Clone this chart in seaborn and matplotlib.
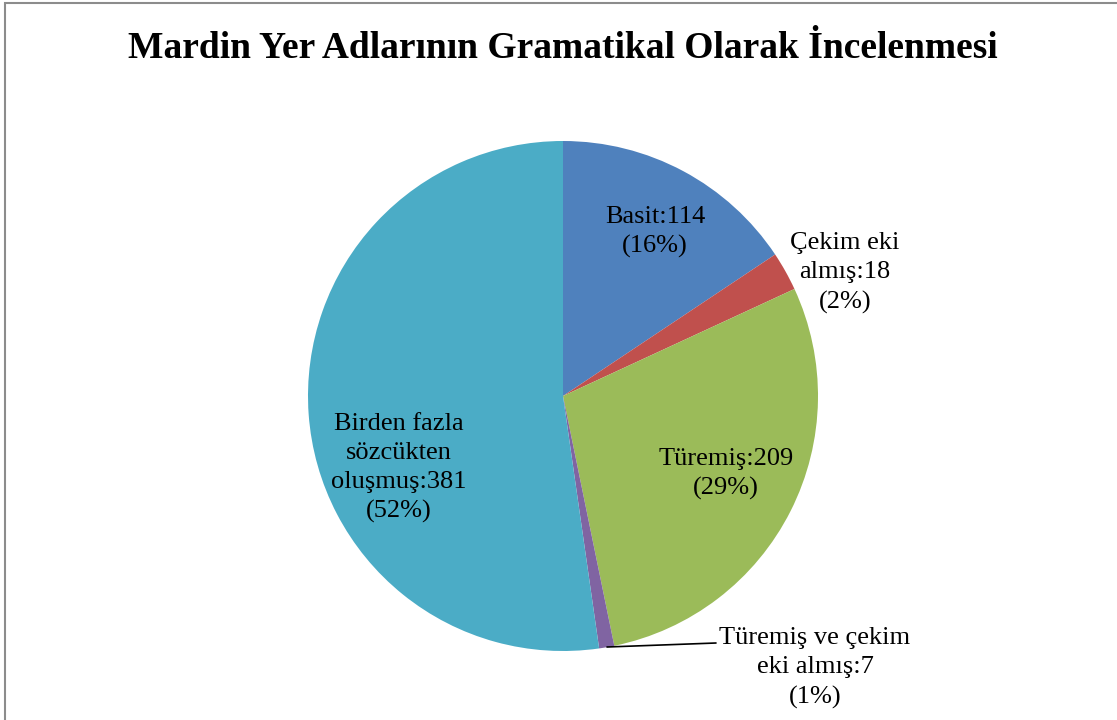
import matplotlib
matplotlib.use('Agg')
import matplotlib.pyplot as plt
import numpy as np
import seaborn as sns
from matplotlib.patches import Rectangle

# Data
categories = ['Basit', 'Çekim eki\nalmış', 'Türemiş', 'Türemiş ve çekim\neki almış',
              'Birden fazla\nsözcükten\noluşmuş']
counts = [114, 18, 209, 7, 381]
colors = ['#4F81BD', '#C0504D', '#9BBB59', '#8064A2', '#4BACC6']
title = 'Mardin Yer Adlarının Gramatikal Olarak İncelenmesi'

sns.set_theme(style='white')
plt.rcParams['font.family'] = ['Liberation Serif', 'DejaVu Serif']

fig = plt.figure(figsize=(11.17, 7.2), dpi=100)
W, H = 1117, 720
cx, cy, r = 563, 396, 255
ax = fig.add_axes([(cx - r) / W, (H - cy - r) / H, 2 * r / W, 2 * r / H])

palette = sns.color_palette(colors)
wedges, _ = ax.pie(counts, colors=palette, startangle=90, counterclock=False,
                   radius=1, wedgeprops=dict(linewidth=0))
ax.set_xlim(-1, 1)
ax.set_ylim(-1, 1)
ax.set_aspect('equal')
ax.axis('off')

total = sum(counts)
# label positions in pixels of the reference picture
label_px = [(655, 232), (845, 273), (726, 474), (815, 668), (399, 468)]
for name, n, (px, py) in zip(categories, counts, label_px):
    pct = round(100 * n / total)
    txt = f'{name}:{n}\n({pct}%)'
    ax.text((px - cx) / r, (cy - py) / r, txt, ha='center', va='center',
            fontsize=19, color='black', linespacing=1.42, clip_on=False)

# leader line for the small slice
ax.plot([(607 - cx) / r, (716 - cx) / r], [(cy - 647) / r, (cy - 643) / r],
        color='black', linewidth=1.2, clip_on=False)

fig.text(563 / W, 1 - 49 / H, title, ha='center', va='center',
         fontsize=27, fontweight='bold', color='black')

# chart border (only left and top edges visible in the crop)
fig.add_artist(Rectangle((5 / W, -0.1), 1.2, 1.1 - 3 / H, transform=fig.transFigure,
                         fill=False, edgecolor='#8C8C8C', linewidth=1.5))

fig.savefig('out.png', dpi=100)
